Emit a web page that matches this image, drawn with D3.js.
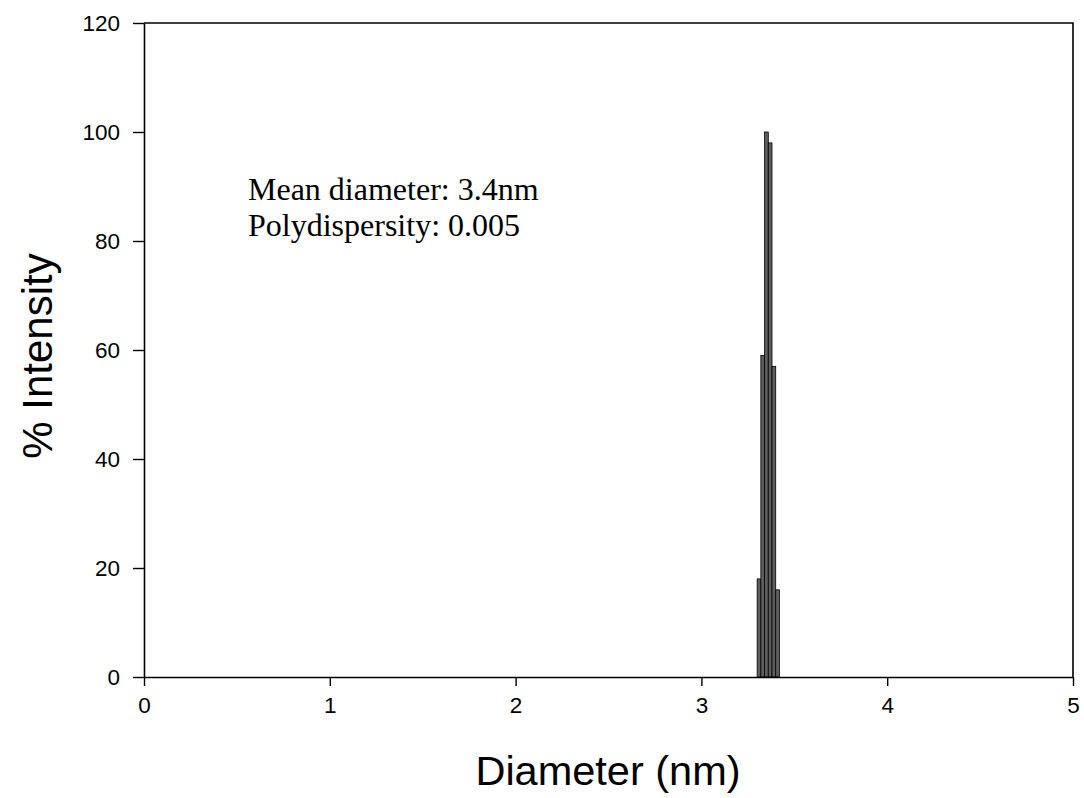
<!DOCTYPE html>
<html>
<head>
<meta charset="utf-8">
<script src="https://cdn.jsdelivr.net/npm/d3@7"></script>
<style>
  html, body { margin: 0; padding: 0; background: #fff; }
  svg { display: block; }
</style>
</head>
<body>
<svg id="chart" width="1084" height="798"></svg>
<script>
// Size distribution: bin centres (nm), bin width and % intensity per bin
const diameters = [3.31, 3.33, 3.35, 3.37, 3.39, 3.41];
const binWidth = 0.02;
const intensity = [18, 59, 100, 98, 57, 16];
const xTicks = [0, 1, 2, 3, 4, 5];
const yTicks = [0, 20, 40, 60, 80, 100, 120];
const notes = ["Mean diameter: 3.4nm", "Polydispersity: 0.005"];

const svg = d3.select("#chart");
const plot = { left: 144, right: 1073, top: 23, bottom: 677 };

const x = d3.scaleLinear().domain([0, 5]).range([plot.left, plot.right]);
const y = d3.scaleLinear().domain([0, 120]).range([plot.bottom, plot.top]);

// frame (top and right edges)
svg.append("path")
  .attr("d", `M${plot.left},${plot.top}H${plot.right}V${plot.bottom}`)
  .attr("fill", "none").attr("stroke", "#000").attr("stroke-width", 1.6);

// bars
svg.append("g").selectAll("rect")
  .data(diameters)
  .join("rect")
  .attr("x", d => x(d - binWidth / 2))
  .attr("width", d => x(d + binWidth / 2) - x(d - binWidth / 2))
  .attr("y", (d, i) => y(intensity[i]))
  .attr("height", (d, i) => y(0) - y(intensity[i]))
  .attr("fill", "#5e5e5e")
  .attr("stroke", "#000")
  .attr("stroke-width", 0.8);

// axes
const xAxis = svg.append("g")
  .attr("transform", `translate(0,${plot.bottom})`)
  .call(d3.axisBottom(x).tickValues(xTicks).tickFormat(d3.format("d")).tickSize(9).tickSizeOuter(0));
const yAxis = svg.append("g")
  .attr("transform", `translate(${plot.left},0)`)
  .call(d3.axisLeft(y).tickValues(yTicks).tickFormat(d3.format("d")).tickSize(11).tickSizeOuter(0));

[xAxis, yAxis].forEach(g => {
  g.select(".domain").attr("stroke", "#000").attr("stroke-width", 1.6);
  g.selectAll(".tick line").attr("stroke", "#000").attr("stroke-width", 1.4);
  g.selectAll(".tick text")
    .attr("font-family", "Arial, 'Liberation Sans', sans-serif")
    .attr("font-size", 22.5).attr("fill", "#000");
});
xAxis.selectAll(".tick text").attr("y", 20).attr("dy", "0.71em");
yAxis.selectAll(".tick text").attr("x", -24);

// axis titles
svg.append("text")
  .attr("x", 608).attr("y", 785)
  .attr("text-anchor", "middle")
  .attr("font-family", "Arial, 'Liberation Sans', sans-serif")
  .attr("font-size", 41.5)
  .text("Diameter (nm)");

svg.append("text")
  .attr("transform", `translate(52,356) rotate(-90)`)
  .attr("text-anchor", "middle")
  .attr("font-family", "Arial, 'Liberation Sans', sans-serif")
  .attr("font-size", 42)
  .text("% Intensity");

// annotation
svg.append("g").selectAll("text")
  .data(notes)
  .join("text")
  .attr("x", 248)
  .attr("y", (d, i) => 200 + i * 36)
  .attr("font-family", "'Times New Roman', 'Liberation Serif', serif")
  .attr("font-size", 32)
  .text(d => d);
</script>
</body>
</html>
